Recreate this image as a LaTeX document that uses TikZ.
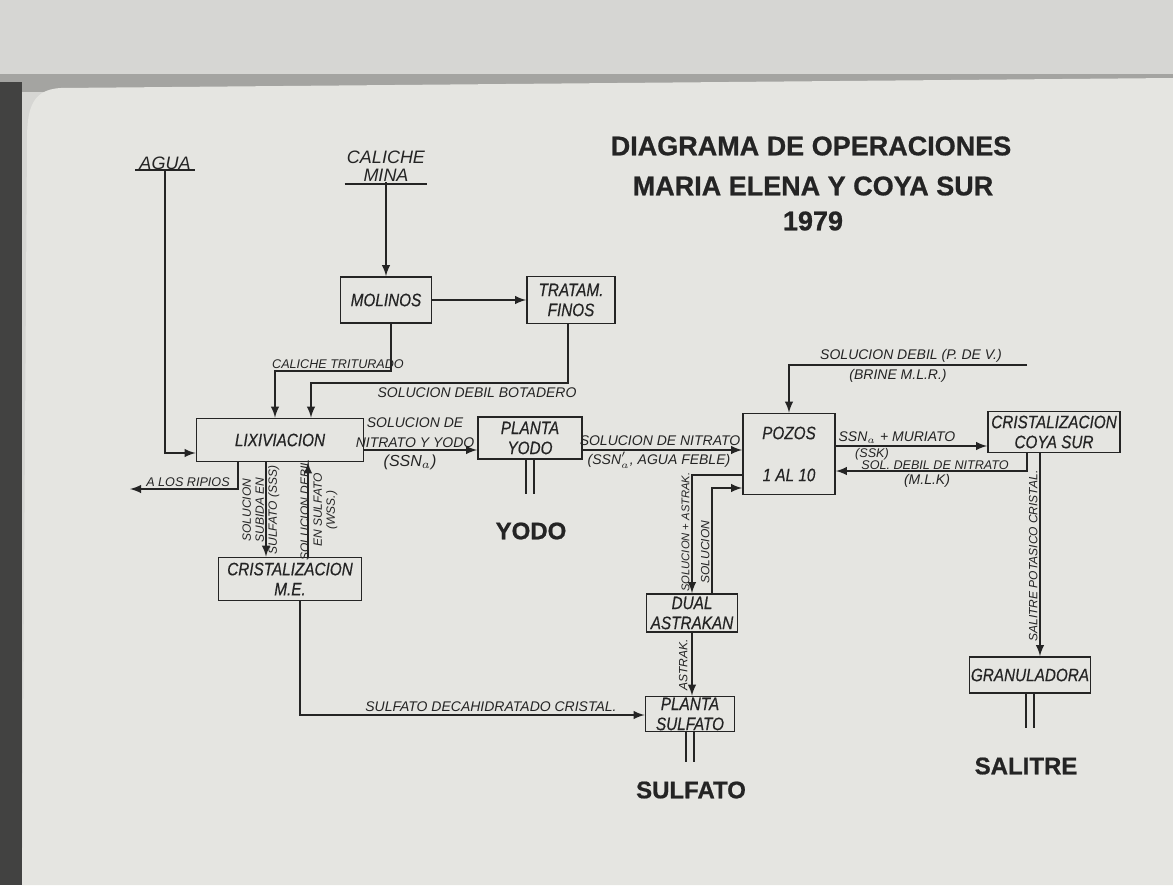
\documentclass[tikz,border=0pt]{standalone}
\usepackage{fontspec}
\setmainfont{Liberation Sans}
\newfontfamily\rotulo[FakeStretch=0.85,FakeBold=0.4]{Liberation Sans}
\newfontfamily\negra[FakeBold=0.8]{Liberation Sans Bold}
\usepackage{tikz}
\usetikzlibrary{shapes,arrows,positioning,calc}
\usepackage{xcolor}
\definecolor{papel}{HTML}{E5E5E1}
\definecolor{hoja}{HTML}{D6D6D3}
\definecolor{sombra}{HTML}{A4A4A1}
\definecolor{borde}{HTML}{424241}
\definecolor{tinta}{HTML}{242424}

\begin{document}
\begin{tikzpicture}[x=0.5pt,y=-0.5pt,>=latex,
    caja/.style={draw=tinta, line width=0.9pt, align=center, inner sep=0pt,
      font=\rotulo\itshape\fontsize{9}{10}\selectfont, text=tinta},
    flujo/.style={draw=tinta, line width=0.9pt},
    nota/.style={font=\itshape\fontsize{7}{7.5}\selectfont, text=tinta, inner sep=1pt, align=center},
    notav/.style={nota, rotate=90, font=\itshape\fontsize{6}{6.5}\selectfont},
    titulo/.style={font=\negra\fontsize{13.5}{15}\selectfont, text=tinta},
    producto/.style={font=\negra\fontsize{12}{13}\selectfont, text=tinta}]
    % Fondo (foto de la pagina)
    \useasboundingbox (0,0) rectangle (1173,885);
    \fill[hoja] (0,0) rectangle (1173,885);
    \fill[sombra] (0,74) rectangle (1173,92);
    \fill[borde] (0,82) rectangle (22,885);
    \fill[papel] (1173,78) -- (60,88) .. controls (34,90) and (27,105) .. (27,140)
        -- (22,885) -- (1173,885) -- cycle;

    % Titulo
    \node[titulo] (tit1) at (811,146) {DIAGRAMA DE OPERACIONES};
    \node[titulo] (tit2) at (813,186) {MARIA ELENA Y COYA SUR};
    \node[titulo] (tit3) at (813,221) {1979};

    % Entradas
    \node[nota, font=\itshape\fontsize{9}{10}\selectfont, inner sep=0pt, anchor=south] (agua) at (165,170) {AGUA};
    \draw[flujo] ([xshift=-2pt]agua.south west) -- ([xshift=2pt]agua.south east);
    \node[nota, font=\itshape\fontsize{9}{9}\selectfont, inner sep=0pt, anchor=south] (mina) at (386,182) {CALICHE\\MINA};
    \draw[flujo] ([xshift=-1pt,yshift=-1pt]mina.south west) -- ([xshift=1pt,yshift=-1pt]mina.south east);

    % Cajas
    \node[caja, minimum width=45.5pt, minimum height=23pt] (molinos) at (386,300) {MOLINOS};
    \node[caja, minimum width=44pt, minimum height=23.5pt] (tratam) at (571,300) {TRATAM.\\FINOS};
    \node[caja, minimum width=83.5pt, minimum height=21.5pt] (lixi) at (280,440) {LIXIVIACION};
    \node[caja, minimum width=52pt, minimum height=21pt] (pyodo) at (530,438) {PLANTA\\YODO};
    \node[caja, minimum width=46pt, minimum height=40.5pt] (pozos) at (789,454) {POZOS\\[11pt]1 AL 10};
    \node[caja, minimum width=66pt, minimum height=20.5pt] (ccoya) at (1054,432) {CRISTALIZACION\\COYA SUR};
    \node[caja, minimum width=71.5pt, minimum height=21.5pt] (cme) at (290,579) {CRISTALIZACION\\M.E.};
    \node[caja, minimum width=45.5pt, minimum height=19pt] (dual) at (692,613) {DUAL\\ASTRAKAN};
    \node[caja, minimum width=44.5pt, minimum height=17.5pt] (psulf) at (690,714) {PLANTA\\SULFATO};
    \node[caja, minimum width=60.5pt, minimum height=18pt] (gran) at (1030,675) {GRANULADORA};

    % Puntos de quiebre
    \coordinate (ct) at (275,371);
    \coordinate (sb) at (311,383);
    \coordinate (ag) at (165,453);
    \coordinate (r0) at (238,0);
    \coordinate (rip) at (130,489);
    \coordinate (s1) at (266,0);
    \coordinate (s2) at (308,0);
    \coordinate (sd) at (300,715);
    \coordinate (ly) at (0,450);
    \coordinate (pv) at (1027,365);
    \coordinate (sk) at (0,446);
    \coordinate (dn) at (1027,471);
    \coordinate (pa) at (692,475);
    \coordinate (pb) at (712,488);
    \coordinate (sp) at (1040,0);

    % Flujos
    \draw[flujo,->] (mina.south) -- (mina.south |- molinos.north);
    \draw[flujo,->] (molinos) -- (tratam);
    \draw[flujo,->] ([xshift=2.5pt]molinos.south) |- (ct) -- (ct |- lixi.north);
    \draw[flujo,->] ([xshift=-1.5pt]tratam.south) |- (sb) -- (sb |- lixi.north);
    \draw[flujo,->] (agua.south) |- (lixi.west |- ag);
    \draw[flujo,->] (lixi.south -| r0) |- (rip);
    \draw[flujo,->] (lixi.south -| s1) -- (cme.north -| s1);
    \draw[flujo,<-] (lixi.south -| s2) -- (cme.north -| s2);
    \draw[flujo,->] (cme.south -| sd) |- (psulf.west |- sd);
    \draw[flujo,->] (lixi.east |- ly) -- (pyodo.west |- ly);
    \draw[flujo,->] (pyodo.east |- ly) -- (pozos.west |- ly);
    \draw[flujo,->] (pv) -| (pozos.north);
    \draw[flujo,->] (pozos.east |- sk) -- (ccoya.west |- sk);
    \draw[flujo,->] (ccoya.south -| dn) |- (pozos.east |- dn);
    \draw[flujo,->] (pozos.west |- pa) -| (dual.north -| pa);
    \draw[flujo,->] (dual.north -| pb) |- (pozos.west |- pb);
    \draw[flujo,->] (dual.south) -- (dual.south |- psulf.north);
    \draw[flujo,->] (ccoya.south -| sp) -- (gran.north -| sp);

    % Productos
    \draw[flujo] ([xshift=-2pt]pyodo.south) -- ++(0,34);
    \draw[flujo] ([xshift=2pt]pyodo.south) -- ++(0,34);
    \node[producto] (yodo) at (531,531) {YODO};
    \draw[flujo] ([xshift=-2pt]psulf.south) -- ++(0,30);
    \draw[flujo] ([xshift=2pt]psulf.south) -- ++(0,30);
    \node[producto] (sulfato) at (691,790) {SULFATO};
    \draw[flujo] ([xshift=-2pt]gran.south) -- ++(0,34);
    \draw[flujo] ([xshift=2pt]gran.south) -- ++(0,34);
    \node[producto] (salitre) at (1026,766) {SALITRE};

    % Rotulos de los flujos
    \node[nota, font=\itshape\fontsize{6.3}{7}\selectfont, anchor=south] (lct) at (338,371) {CALICHE TRITURADO};
    \node[nota] (lsb) at (477,393) {SOLUCION DEBIL BOTADERO};
    \node[nota, font=\itshape\fontsize{6.3}{7}\selectfont, anchor=south] (lrip) at (188,489) {A LOS RIPIOS};
    \node[nota, font=\itshape\fontsize{7}{10}\selectfont, anchor=south] (lnit) at (415,450) {SOLUCION DE\\NITRATO Y YODO};
    \node[nota, font=\itshape\fontsize{8}{9}\selectfont, anchor=north] (lssn) at (410,452) {(SSN$_a$)};
    \node[nota, anchor=south] (lsn) at (660,448) {SOLUCION DE NITRATO};
    \node[nota, anchor=north] (lagf) at (659,450) {(SSN$'_a$, AGUA FEBLE)};
    \node[nota, anchor=south] (lpv) at (911,365) {SOLUCION DEBIL (P. DE V.)};
    \node[nota, anchor=north] (lbr) at (898,367) {(BRINE M.L.R.)};
    \node[nota, anchor=south] (lmu) at (897,446) {SSN$_a$ + MURIATO};
    \node[nota, font=\itshape\fontsize{6.3}{7}\selectfont, inner sep=0pt, anchor=north] (lssk) at (872,447.5) {(SSK)};
    \node[nota, font=\itshape\fontsize{6.3}{7}\selectfont, inner sep=0.5pt, anchor=south] (lsol) at (935,471) {SOL. DEBIL DE NITRATO};
    \node[nota, anchor=north] (lmlk) at (927,472) {(M.L.K)};
    \node[nota] (lsd) at (491,707) {SULFATO DECAHIDRATADO CRISTAL.};
    \node[notav] (lsss) at (261,510) {SOLUCION\\SUBIDA EN\\SULFATO (SSS)};
    \node[notav] (lwss) at (319,510) {SOLUCION DEBIL\\EN SULFATO\\(WSS.)};
    \node[notav, font=\itshape\fontsize{5.6}{6}\selectfont, anchor=south] (lsa) at (692,532) {SOLUCION + ASTRAK.};
    \node[notav, anchor=south] (lsol2) at (712,552) {SOLUCION};
    \node[notav, anchor=south] (last) at (690,665) {ASTRAK.};
    \node[notav, anchor=south] (lspc) at (1040,556) {SALITRE POTASICO CRISTAL.};
\end{tikzpicture}
\end{document}
